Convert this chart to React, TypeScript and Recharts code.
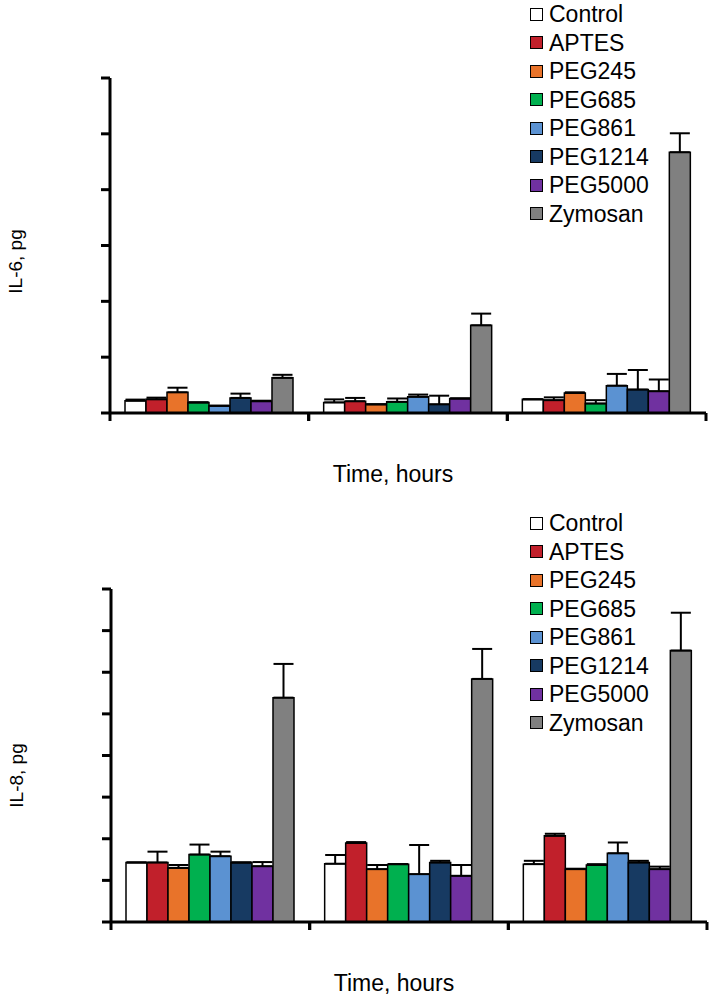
import { BarChart, Bar, XAxis, YAxis, ErrorBar, Legend, Label } from 'recharts'

const timePoints = ['1', '2', '3']
const seriesNames = ['Control', 'APTES', 'PEG245', 'PEG685', 'PEG861', 'PEG1214', 'PEG5000', 'Zymosan']
const seriesColors = ['#FFFFFF', '#C1202B', '#E8732A', '#00B04F', '#5B92D2', '#173A62', '#7031A0', '#808080']

// IL-6, one array per series, one value per time point
const il6Values = [
  [0.22, 0.19, 0.245],
  [0.245, 0.21, 0.23],
  [0.37, 0.155, 0.36],
  [0.19, 0.2, 0.17],
  [0.13, 0.29, 0.49],
  [0.27, 0.155, 0.42],
  [0.21, 0.26, 0.39],
  [0.63, 1.57, 4.67],
]
const il6Errors = [
  [0.02, 0.054, 0],
  [0.03, 0.06, 0.05],
  [0.083, 0, 0.01],
  [0, 0.06, 0.06],
  [0, 0.04, 0.21],
  [0.077, 0.155, 0.35],
  [0.01, 0, 0.21],
  [0.054, 0.21, 0.34],
]
const il6Ticks = [0, 1, 2, 3, 4, 5, 6]

// IL-8
const il8Values = [
  [1.43, 1.4, 1.39],
  [1.43, 1.9, 2.07],
  [1.3, 1.27, 1.27],
  [1.62, 1.39, 1.37],
  [1.58, 1.15, 1.65],
  [1.43, 1.43, 1.43],
  [1.34, 1.11, 1.27],
  [5.39, 5.84, 6.52],
]
const il8Errors = [
  [0, 0.21, 0.08],
  [0.26, 0.02, 0.05],
  [0.07, 0.1, 0.01],
  [0.24, 0, 0.02],
  [0.11, 0.7, 0.26],
  [0, 0.04, 0.04],
  [0.1, 0.26, 0.06],
  [0.81, 0.72, 0.91],
]
const il8Ticks = [0, 1, 2, 3, 4, 5, 6, 7, 8]

const FONT = '"Liberation Sans", Arial, sans-serif'

function buildRows(values: number[][], errors: number[][]) {
  return timePoints.map((t, i) => {
    const row: Record<string, any> = { name: t }
    seriesNames.forEach((s, j) => {
      row[s] = values[j][i]
      row[s + '_err'] = [0, errors[j][i]]
    })
    return row
  })
}

// tick marks sit on the group boundaries, not on the group centres
function EdgeTick(props: any) {
  const { x, y, payload } = props
  const half = payload && payload.offset ? payload.offset : 0
  return (
    <g>
      <line x1={x - half} x2={x - half} y1={y} y2={y + 8} stroke="#000" strokeWidth={3} />
      <line x1={x + half} x2={x + half} y1={y} y2={y + 8} stroke="#000" strokeWidth={3} />
    </g>
  )
}

function LegendList() {
  return (
    <div style={{ fontFamily: FONT, fontSize: 23, color: '#000' }}>
      {seriesNames.map((s, i) => (
        <div key={s} style={{ display: 'flex', alignItems: 'center', height: 28.5 }}>
          <span
            style={{
              display: 'inline-block',
              width: 11,
              height: 11,
              background: seriesColors[i],
              border: '1px solid #000',
              marginRight: 6,
            }}
          />
          <span style={{ lineHeight: '28.5px' }}>{s}</span>
        </div>
      ))}
    </div>
  )
}

interface PanelProps {
  values: number[][]
  errors: number[][]
  ticks: number[]
  yLabel: string
  height: number
  margin: { top: number; right: number; bottom: number; left: number }
  legendTop: number
  yLabelDy: number
}

function Panel({ values, errors, ticks, yLabel, height, margin, legendTop, yLabelDy }: PanelProps) {
  const rows = buildRows(values, errors)
  return (
    <BarChart width={714} height={height} data={rows} margin={margin} barCategoryGap={15} barGap={0}>
      <XAxis
        dataKey="name"
        interval={0}
        tick={<EdgeTick />}
        tickLine={false}
        tickSize={0}
        tickMargin={0}
        axisLine={{ stroke: '#000', strokeWidth: 3 }}
        height={30}
      >
        <Label
          value="Time, hours"
          position="bottom"
          offset={23}
          dx={-15}
          fontSize={23}
          fontFamily={FONT}
          fill="#000"
        />
      </XAxis>
      <YAxis
        domain={[ticks[0], ticks[ticks.length - 1]]}
        ticks={ticks}
        interval={0}
        tickFormatter={() => ''}
        width={10}
        tickSize={9}
        axisLine={{ stroke: '#000', strokeWidth: 3 }}
        tickLine={{ stroke: '#000', strokeWidth: 3 }}
      >
        <Label
          value={yLabel}
          position="center"
          angle={-90}
          dx={-90}
          dy={yLabelDy}
          fontSize={19}
          fontFamily={FONT}
          fill="#000"
        />
      </YAxis>
      <Legend
        layout="horizontal"
        verticalAlign="middle"
        align="center"
        wrapperStyle={{ top: legendTop, left: 530, width: 180 }}
        content={() => <LegendList />}
      />
      {seriesNames.map((s, i) => (
        <Bar
          key={s}
          dataKey={s}
          fill={seriesColors[i]}
          stroke="#000"
          strokeWidth={1.5}
          isAnimationActive={false}
        >
          <ErrorBar dataKey={s + '_err'} width={10} stroke="#000" strokeWidth={2} />
        </Bar>
      ))}
    </BarChart>
  )
}

export default function App() {
  return (
    <div style={{ position: 'absolute', left: 0, top: 0, width: 714, height: 1001, background: '#fff' }}>
      <div style={{ position: 'absolute', left: 0, top: 0 }}>
        <Panel
          values={il6Values}
          errors={il6Errors}
          ticks={il6Ticks}
          yLabel="IL-6, pg"
          height={500}
          margin={{ top: 78, right: 8, bottom: 57, left: 100 }}
          legendTop={0}
          yLabelDy={16}
        />
      </div>
      <div style={{ position: 'absolute', left: 0, top: 500 }}>
        <Panel
          values={il8Values}
          errors={il8Errors}
          ticks={il8Ticks}
          yLabel="IL-8, pg"
          height={501}
          margin={{ top: 89, right: 7, bottom: 49, left: 101 }}
          legendTop={9}
          yLabelDy={20}
        />
      </div>
    </div>
  )
}
